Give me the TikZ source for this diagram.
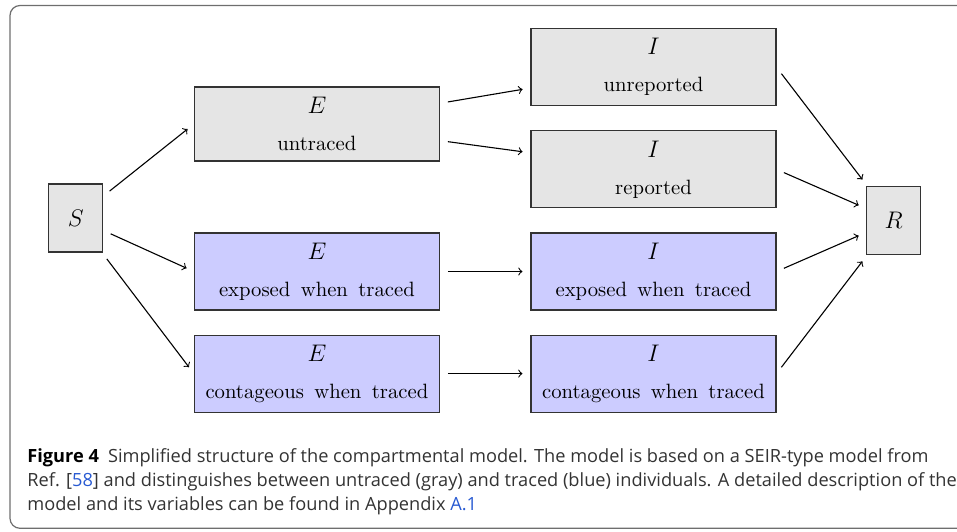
\documentclass[tikz,border=0pt]{standalone}
\usepackage{fontspec}
\newfontfamily\captionfont{Open Sans}
\definecolor{untraced-gray}{gray}{0.9}
\definecolor{traced-blue}{RGB}{204,204,255}
\definecolor{frame-gray}{RGB}{110,110,110}
\definecolor{link-blue}{RGB}{40,90,210}
\newcommand{\compartmentfont}{\fontsize{10.35}{12}\selectfont\spaceskip=5.2pt plus 1pt\relax}
\newcommand{\statevar}[1]{{\fontsize{12}{12}\selectfont$#1$}}
\usetikzlibrary{calc}
\usetikzlibrary{positioning}

\begin{document}
\begin{tikzpicture}[%
            compartment/.style={%
              draw=black!80,
              line width=0.55pt,
              align=center,
              minimum width=122.5pt,
              minimum height=38.5pt,
              inner sep=0pt,
              font=\compartmentfont,
            },
            untraced/.style={compartment, fill=untraced-gray},
            traced/.style={compartment, fill=traced-blue},
            flow/.style={->, line width=0.55pt, shorten >=4pt, shorten <=4pt},
          ]
            \useasboundingbox (-37.9pt,-156.5pt) rectangle (440.6pt,109pt);
            \draw [%
              frame-gray,
              line width=0.6pt,
              rounded corners=5pt,
            ] (440.6pt,106.25pt) -- (-32.9pt,106.25pt) -- (-32.9pt,-155.15pt) -- (440.6pt,-155.15pt);

            \node [%
              untraced,
              minimum width=27pt,
              minimum height=34pt,
            ] (S) {\statevar{S}};
            \coordinate [right=45.25pt of S] (E column);
            \node [%
              untraced,
              anchor=west,
              minimum height=37pt,
            ] (E untraced) at ([yshift=47pt]E column) {\statevar{E}\\[6.5pt]untraced};
            \node [%
              traced,
              anchor=west,
            ] (E exposed) at ([yshift=-26.75pt]E column) {\statevar{E}\\[6.5pt]exposed when traced};
            \node [%
              traced,
              below=12pt of E exposed,
            ] (E contageous) {\statevar{E}\\[6.5pt]contageous when traced};

            \node [%
              traced,
              right=45.25pt of E exposed,
            ] (I exposed) {\statevar{I}\\[6.5pt]exposed when traced};
            \node [%
              traced,
              right=45.25pt of E contageous,
            ] (I contageous) {\statevar{I}\\[6.5pt]contageous when traced};
            \node [%
              untraced,
              above=12pt of I exposed,
            ] (I reported) {\statevar{I}\\[6.5pt]reported};
            \node [%
              untraced,
              above=12pt of I reported,
            ] (I unreported) {\statevar{I}\\[6.5pt]unreported};

            \coordinate (I column) at ($(I reported.east)!0.5!(I exposed.east)$);
            \node [%
              untraced,
              minimum width=27pt,
              minimum height=34pt,
              right=44.75pt of I column,
            ] (R) {\statevar{R}};

            \draw [flow] (S) -- (E untraced.west);
            \draw [flow] (S) -- (E exposed.west);
            \draw [flow] (S) -- (E contageous.west);
            \draw [flow] (E untraced) -- (I unreported);
            \draw [flow] (E untraced) -- (I reported);
            \draw [flow] (E exposed) -- (I exposed);
            \draw [flow] (E contageous) -- (I contageous);
            \foreach \i in {unreported,reported,exposed,contageous}
              \draw [flow] (I \i.east) -- (R);

            \node [%
              anchor=north west,
              align=left,
              inner sep=0pt,
              text=black!80,
              font=\captionfont\fontsize{9.1}{12}\selectfont,
            ] (caption) at (-24.4pt,-115.2pt) {\textcolor{black}{\textbf{Figure 4}}\enspace Simplified structure of the compartmental model. The model is based on a SEIR-type model from\\Ref. [\textcolor{link-blue}{58}] and distinguishes between untraced (gray) and traced (blue) individuals. A detailed description of the\\model and its variables can be found in Appendix \textcolor{link-blue}{A.1}};
          \end{tikzpicture}
\end{document}
